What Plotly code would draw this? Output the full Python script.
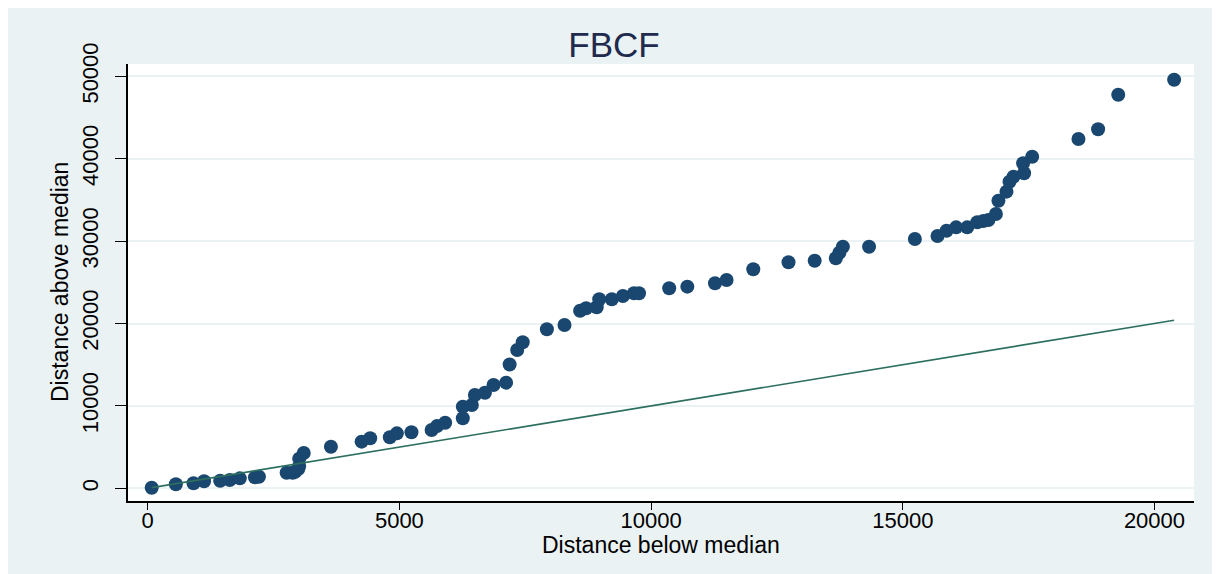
import plotly.graph_objects as go

# Distance below median (x) and distance above median (y)
below_median = [80, 560, 910, 1120, 1440, 1630, 1830, 2130, 2210, 2760, 2880, 2930, 2990,
                3010, 3010, 3100, 3640, 4250, 4420, 4810, 4950, 5240, 5640, 5750, 5910,
                6260, 6260, 6440, 6500, 6700, 6870, 7120, 7190, 7340, 7450, 7930, 8280,
                8590, 8710, 8920, 8970, 9220, 9440, 9660, 9760, 10360, 10720, 11270, 11500,
                12030, 12730, 13250, 13670, 13740, 13810, 14330, 15240, 15690, 15870, 16060,
                16280, 16480, 16600, 16700, 16850, 16900, 17060, 17120, 17200, 17410, 17390,
                17570, 18490, 18880, 19280, 20390]
above_median = [70, 490, 610, 850, 920, 1010, 1210, 1330, 1410, 1890, 1890, 2010, 2340,
                2700, 3600, 4280, 5050, 5660, 6070, 6190, 6670, 6800, 7080, 7560, 7960,
                8500, 9900, 10110, 11320, 11600, 12540, 12820, 15020, 16780, 17730, 19300, 19820,
                21550, 21850, 21970, 22940, 22940, 23340, 23670, 23670, 24270, 24470, 24880, 25280,
                26580, 27430, 27620, 27910, 28590, 29320, 29320, 30260, 30620, 31260, 31670,
                31670, 32280, 32440, 32560, 33290, 34900, 36000, 37210, 37820, 38230, 39440,
                40240, 42390, 43570, 47770, 49590]

x_ticks = [0, 5000, 10000, 15000, 20000]
y_ticks = [0, 10000, 20000, 30000, 40000, 50000]

BG = "#eaf2f3"
NAVY = "#1a476f"
LINE = "#2d6f5f"

ref_x = [min(below_median), max(below_median)]

fig = go.Figure()
fig.add_trace(go.Scatter(x=below_median, y=above_median, mode="markers",
                         marker=dict(color=NAVY, size=14, line=dict(width=0)),
                         showlegend=False, hoverinfo="x+y"))
fig.add_trace(go.Scatter(x=ref_x, y=ref_x, mode="lines",
                         line=dict(color=LINE, width=1.6),
                         showlegend=False, hoverinfo="skip"))

# page body adds an 8px offset; figure fills the rest of the 1220x574 window
OFF = 8
W, H = 1220 - OFF, 574 - OFF
L, R, T, B = 128 - OFF, 26, 64 - OFF, 73
pw, ph = W - L - R, H - T - B


def px_x(p):
    # p: horizontal pixel in window coordinates
    return (p - OFF - L) / pw


def px_y(p):
    # p: vertical pixel in window coordinates
    return (H - B - (p - OFF)) / ph


fig.update_layout(
    width=W, height=H,
    margin=dict(l=L, r=R, t=T, b=B),
    paper_bgcolor=BG,
    plot_bgcolor="white",
    font=dict(family="Liberation Sans, Arial, sans-serif", color="black"),
    title=dict(text="FBCF", x=px_x(661), xanchor="center", y=1 - (45 - OFF) / H,
               yanchor="middle", font=dict(size=35, color="#1f2a4d")),
    xaxis=dict(range=[-391, 20785], tickvals=x_ticks, ticktext=[str(v) for v in x_ticks],
               showgrid=False, zeroline=False, showline=True, linecolor="black", linewidth=1.5,
               ticks="outside", ticklen=7, tickwidth=1.2, tickcolor="black",
               ticklabelstandoff=-8,
               tickfont=dict(size=22, color="black")),
    yaxis=dict(range=[-1541, 51493], tickvals=y_ticks, ticktext=[str(v) for v in y_ticks],
               showgrid=True, gridcolor=BG, gridwidth=1.5, zeroline=False,
               showline=True, linecolor="black", linewidth=1.5,
               ticks="outside", ticklen=11, tickwidth=1.2, tickcolor="black",
               ticklabelstandoff=8,
               tickangle=-90, tickfont=dict(size=22, color="black")),
    annotations=[
        dict(text="Distance below median", xref="paper", yref="paper",
             x=px_x(661), y=px_y(545), xanchor="center", yanchor="middle",
             showarrow=False, font=dict(size=23, color="black")),
        dict(text="Distance above median", xref="paper", yref="paper",
             x=px_x(60), y=px_y(282), xanchor="center", yanchor="middle",
             textangle=-90, showarrow=False, font=dict(size=23, color="black")),
    ],
)

fig.write_html("out.html")
